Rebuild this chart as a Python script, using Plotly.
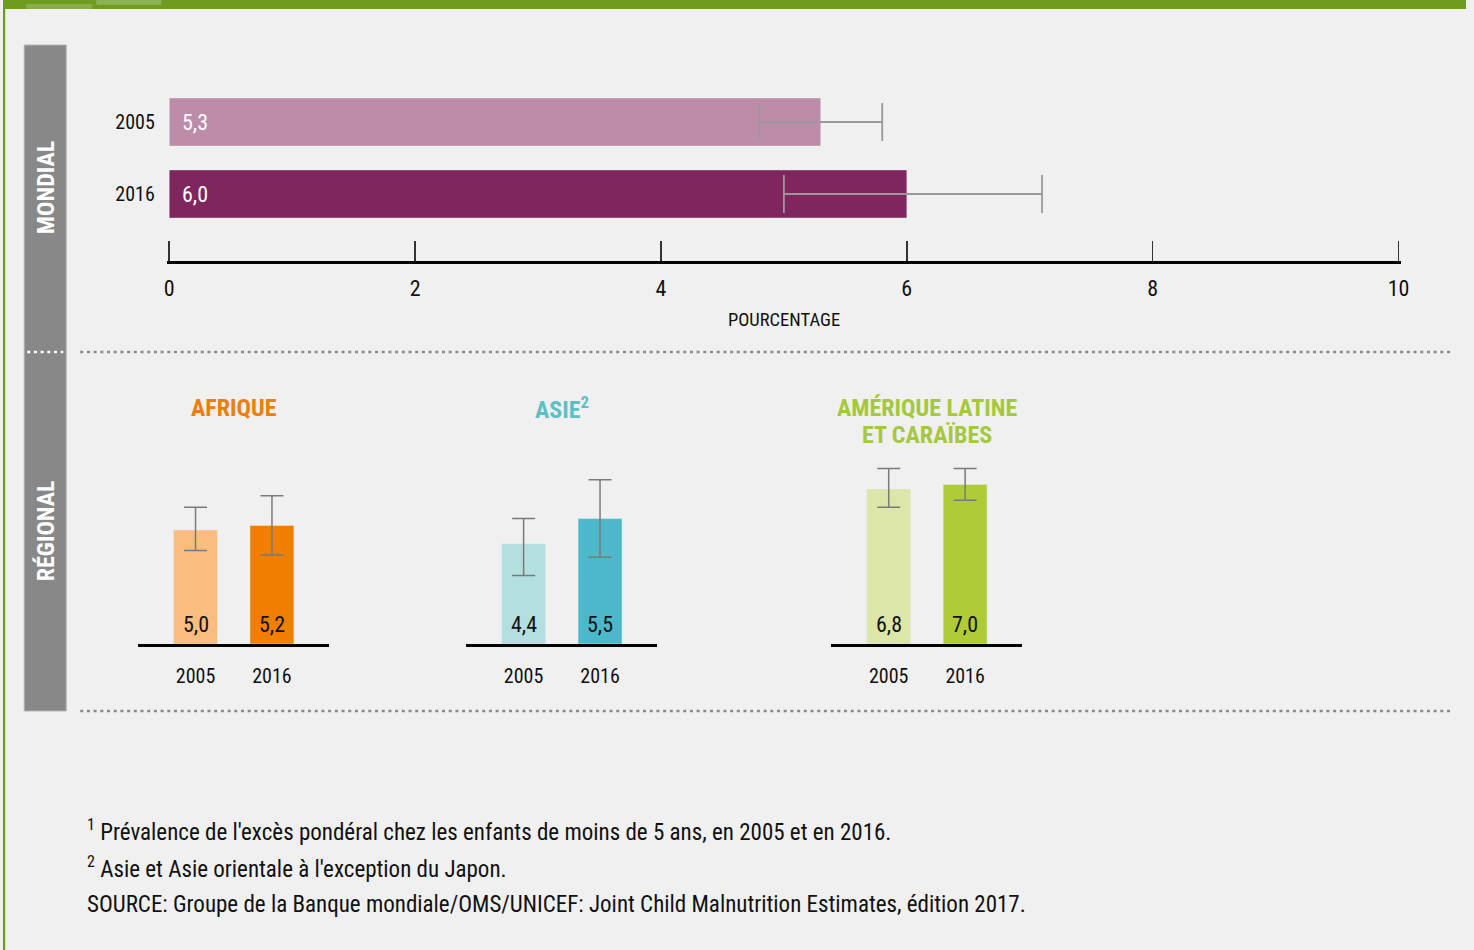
import plotly.graph_objects as go

W, H = 1474, 950
FONT = "Roboto Condensed, Liberation Sans Narrow, DejaVu Sans Condensed, Roboto, sans-serif"

# ---------------- data ----------------
world_years = ["2005", "2016"]
world_values = [5.3, 6.0]
world_low = [4.8, 5.0]
world_high = [5.8, 7.1]
world_colors = ["#bd8ca8", "#7f265e"]

x_ticks = [0, 2, 4, 6, 8, 10]

region_names = ["AFRIQUE", "ASIE<sup>2</sup>", "AMÉRIQUE LATINE<br>ET CARAÏBES"]
region_title_colors = ["#ef7d0b", "#5ec0c6", "#a6c83c"]
region_years = ["2005", "2016"]
afrique_values = [5.0, 5.2]
afrique_low = [4.1, 3.9]
afrique_high = [6.0, 6.5]
asie_values = [4.4, 5.5]
asie_low = [3.0, 3.8]
asie_high = [5.5, 7.2]
latam_values = [6.8, 7.0]
latam_low = [6.0, 6.3]
latam_high = [7.7, 7.7]
afrique_colors = ["#fbbc80", "#f07f00"]
asie_colors = ["#b3dfe0", "#4cb8c9"]
latam_colors = ["#dce6a8", "#aecb38"]

footnotes = [
    "<sup>1</sup> Prévalence de l'excès pondéral chez les enfants de moins de 5 ans, en 2005 et en 2016.",
    "<sup>2</sup> Asie et Asie orientale à l'exception du Japon.",
    "SOURCE: Groupe de la Banque mondiale/OMS/UNICEF: Joint Child Malnutrition Estimates, édition 2017.",
]


def fmt(v):
    return f"{v:.1f}".replace(".", ",")


# horizontal compensation measured from the rendered page
SX, OX = 0.9923, 2.8


def px(x):
    return ((x - OX) / SX) / W


def py(y):
    return 1 - y / H


fig = go.Figure()

# ---------------- world (horizontal bars) ----------------
fig.add_trace(go.Bar(
    x=world_values, y=world_years, orientation="h",
    marker=dict(color=world_colors, line=dict(color="rgba(255,255,255,0.35)", width=1)),
    width=0.667,
    error_x=dict(type="data", symmetric=False,
                 array=[h - v for h, v in zip(world_high, world_values)],
                 arrayminus=[v - l for v, l in zip(world_values, world_low)],
                 color="#999999", thickness=1.8, width=19),
    xaxis="x", yaxis="y", showlegend=False, hoverinfo="skip",
))

annotations = []
for i, v in enumerate(world_values):
    annotations.append(dict(x=0, y=i, xref="x", yref="y", text=fmt(v), showarrow=False,
                            xanchor="left", yanchor="middle", xshift=11,
                            font=dict(family=FONT, size=22, color="white")))

# ---------------- regional ----------------
regions = [
    (afrique_values, afrique_low, afrique_high, afrique_colors, 138, 329),
    (asie_values, asie_low, asie_high, asie_colors, 466, 657),
    (latam_values, latam_low, latam_high, latam_colors, 831, 1022),
]
axis_defs = {}
for i, (vals, lows, highs, cols, x0, x1) in enumerate(regions):
    n = i + 2
    xa, ya = f"x{n}", f"y{n}"
    fig.add_trace(go.Bar(
        x=region_years, y=vals, marker=dict(color=cols), width=0.575,
        error_y=dict(type="data", symmetric=False,
                     array=[h - v for h, v in zip(highs, vals)],
                     arrayminus=[v - l for v, l in zip(vals, lows)],
                     color="#7a7a7a", thickness=1.5, width=11.5),
        xaxis=xa, yaxis=ya, showlegend=False, hoverinfo="skip",
    ))
    for j, v in enumerate(vals):
        annotations.append(dict(x=j, y=py(644), xref=xa, yref="paper", text=fmt(v), showarrow=False,
                                xanchor="center", yanchor="bottom", yshift=5,
                                font=dict(family=FONT, size=22, color="#111111")))
    axis_defs[f"xaxis{n}"] = dict(
        domain=[px(x0), px(x1)], anchor=ya, type="category", range=[-0.75, 1.75],
        categoryorder="array", categoryarray=region_years,
        showline=True, linecolor="#000000", linewidth=3, ticks="", showgrid=False,
        zeroline=False, ticklabelstandoff=12,
        tickfont=dict(family=FONT, size=20, color="#111111"), fixedrange=True,
    )
    axis_defs[f"yaxis{n}"] = dict(
        domain=[py(644), py(455)], anchor=xa, range=[0, (644 - 455) / 22.8],
        showticklabels=False, showline=False, ticks="", showgrid=False, zeroline=False,
        fixedrange=True,
    )
    title_lines = region_names[i].split("<br>")
    for k, t in enumerate(title_lines):
        annotations.append(dict(
            x=px((x0 + x1) / 2), y=py(408 + 27 * k),
            xref="paper", yref="paper", text=f"<b>{t}</b>", showarrow=False,
            xanchor="center", yanchor="middle",
            font=dict(family=FONT, size=24, color=region_title_colors[i]), align="center",
        ))

# ---------------- static text ----------------
annotations.append(dict(x=px(784), y=py(320), xref="paper", yref="paper", text="POURCENTAGE",
                        xanchor="center", yanchor="middle", showarrow=False,
                        font=dict(family=FONT, size=18.5, color="#111111")))
annotations.append(dict(x=px(46), y=py(188), xref="paper", yref="paper", text="<b>MONDIAL</b>",
                        xanchor="center", yanchor="middle", textangle=-90, showarrow=False,
                        font=dict(family=FONT, size=24, color="white")))
annotations.append(dict(x=px(46), y=py(531), xref="paper", yref="paper", text="<b>RÉGIONAL</b>",
                        xanchor="center", yanchor="middle", textangle=-90, showarrow=False,
                        font=dict(family=FONT, size=24, color="white")))
for k, line in enumerate(footnotes):
    annotations.append(dict(x=px(85), y=py(830 + 37 * k), xref="paper", yref="paper", text=line,
                            xanchor="left", yanchor="middle", showarrow=False,
                            font=dict(family=FONT, size=23, color="#111111")))

shapes = [
    # green frame
    dict(type="rect", xref="paper", yref="paper", x0=0, x1=1, y0=py(9), y1=1,
         fillcolor="#6e9c1f", line=dict(width=0), layer="below"),
    dict(type="rect", xref="paper", yref="paper", x0=0, x1=px(5), y0=0, y1=1,
         fillcolor="#6e9c1f", line=dict(width=0), layer="below"),
    dict(type="rect", xref="paper", yref="paper", x0=px(26), x1=px(92), y0=py(9), y1=py(4),
         fillcolor="#88ae4c", line=dict(width=0), layer="below"),
    dict(type="rect", xref="paper", yref="paper", x0=px(96), x1=px(161), y0=py(5), y1=1,
         fillcolor="#8bb252", line=dict(width=0), layer="below"),
    # side panel
    dict(type="rect", xref="paper", yref="paper", x0=px(24), x1=px(66), y0=py(711), y1=py(45),
         fillcolor="#888888", line=dict(color="#b5b5b5", width=1), layer="below"),
    # dotted separators
    dict(type="line", xref="paper", yref="paper", x0=px(80), x1=px(1453), y0=py(352), y1=py(352),
         line=dict(color="#8a8a8a", width=2.5, dash="3px,3.7px")),
    dict(type="line", xref="paper", yref="paper", x0=px(27), x1=px(63), y0=py(352), y1=py(352),
         line=dict(color="#ffffff", width=2.5, dash="3px,3.7px")),
    dict(type="line", xref="paper", yref="paper", x0=px(80), x1=px(1453), y0=py(711), y1=py(711),
         line=dict(color="#8a8a8a", width=2.5, dash="3px,3.7px")),
]

# top axes: y centers at 122 (2005) & 194 (2016), 72 px per category, bottom at 261
top_y0, top_y1 = 80, 261
unit = (1398 - 169) / 10.0
pad = 0.02
layout_axes = dict(
    xaxis=dict(domain=[px(169 - pad * unit), px(1398 + pad * unit)], anchor="y",
               range=[-pad, 10 + pad], tickvals=x_ticks,
               ticktext=[str(t) for t in x_ticks], ticks="inside", ticklen=20, tickwidth=1.5,
               tickcolor="#333333", showline=True, linecolor="#000000", linewidth=3,
               showgrid=False, zeroline=False, ticklabelstandoff=6,
               tickfont=dict(family=FONT, size=22, color="#111111"), fixedrange=True),
    yaxis=dict(domain=[py(top_y1), py(top_y0)], anchor="x", type="category",
               categoryorder="array", categoryarray=world_years,
               range=[(top_y1 - 122) / 72, (top_y0 - 122) / 72],
               showline=False, ticks="", showgrid=False, zeroline=False, ticklabelstandoff=11,
               tickfont=dict(family=FONT, size=20, color="#111111"), fixedrange=True),
)
layout_axes.update(axis_defs)

fig.update_layout(
    width=W, height=H, autosize=False, margin=dict(l=0, r=0, t=0, b=0, pad=0),
    paper_bgcolor="#f0f0f0", plot_bgcolor="rgba(0,0,0,0)",
    font=dict(family=FONT, color="#111111"),
    annotations=annotations, shapes=shapes, barmode="group", bargap=0,
    showlegend=False,
    **layout_axes,
)

page_css = (
    "document.documentElement.style.margin='0';document.body.style.margin='0';"
    "document.body.style.padding='0';document.body.style.overflow='hidden';"
    "document.documentElement.style.background='linear-gradient(to right,#6e9c1f 0,#6e9c1f 5px,transparent 5px),"
    "linear-gradient(to bottom,#6e9c1f 0,#6e9c1f 9px,#f0f0f0 9px)';"
    "document.body.style.background='transparent';"
)
fig.write_html("out.html", config={"displayModeBar": False, "staticPlot": True, "responsive": False},
               post_script=page_css)
